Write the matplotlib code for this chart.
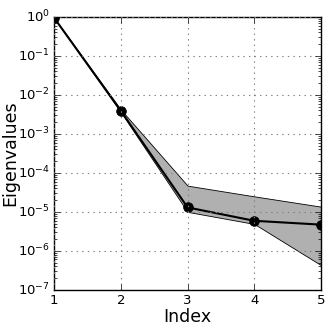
import matplotlib
matplotlib.use("Agg")
import matplotlib.pyplot as plt
import numpy as np

plt.style.use("classic")

## Data
index = [1, 2, 3, 4, 5]
eig_mean = [0.95, 3.9e-3, 1.3e-5, 5.9e-6, 4.7e-6]
eig_low = [0.95, 3.6e-3, 1.0e-5, 4.9e-6, 4.3e-7]
eig_high = [0.95, 4.2e-3, 4.7e-5, 2.5e-5, 1.36e-5]

## Figure
fig = plt.figure(figsize=(3.32, 3.32), dpi=100, facecolor="white")
ax = fig.add_axes([0.163, 0.127, 0.804, 0.822])

ax.fill_between(index, eig_low, eig_high, facecolor="#b0b0b0", edgecolor="black", linewidth=0.6)
ax.plot(index, eig_mean, color="black", linewidth=1.5, marker="o", markersize=7)

ax.set_yscale("log")
ax.set_xlim(1, 5)
ax.set_ylim(1e-7, 1e0)
ax.set_xticks(index)
ax.grid(True, color="gray", linestyle=":", linewidth=0.8)

ax.set_xlabel("Index", fontsize=12.5, labelpad=1)
ax.set_ylabel("Eigenvalues", fontsize=12.5, labelpad=-1)
ax.tick_params(labelsize=9.5, pad=3)

fig.savefig("out.png", dpi=100, facecolor="white")
